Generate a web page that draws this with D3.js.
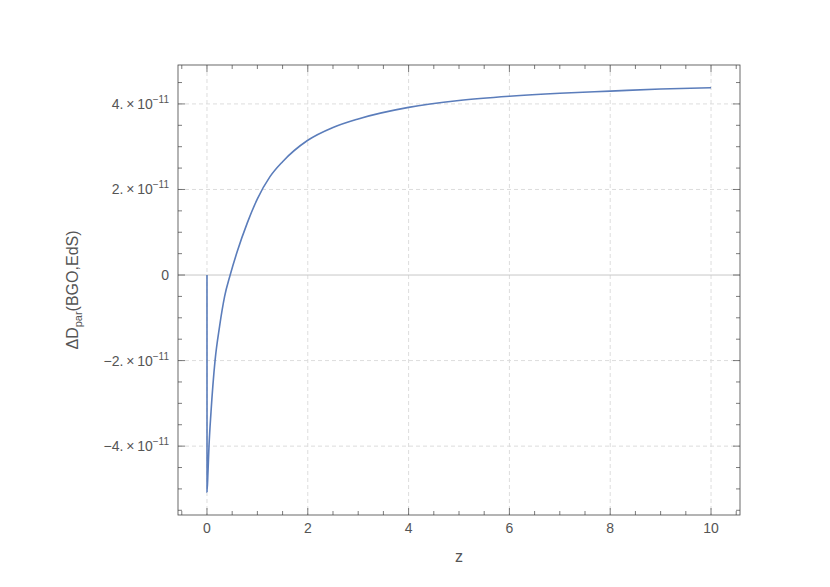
<!DOCTYPE html><html><head><script src="https://cdn.jsdelivr.net/npm/d3@7"></script>
<style>body{margin:0;background:#fff}text{font-family:"Liberation Sans",Arial,sans-serif;fill:#555}</style></head><body>
<svg id="c" width="830" height="587"></svg>
<script>
const zVals=[0,0.001,0.02,0.04,0.08,0.16,0.25,0.35,0.46,0.6,0.8,1.0,1.25,1.5,2,2.5,3,4,5,6,7,8,9,10];
const dVals=[0,-5.07,-4.6,-4.0,-3.2,-2.0,-1.2,-0.5,0,0.55,1.22,1.78,2.3,2.65,3.15,3.45,3.65,3.92,4.08,4.18,4.25,4.3,4.35,4.38];
const xTicks=[0,2,4,6,8,10];
const yTicks=[-4,-2,0,2,4];
const svg=d3.select("#c");
const L=178,R=740,T=65,B=515;
const x=d3.scaleLinear().domain([-0.575,10.575]).range([L,R]);
const y=d3.scaleLinear().domain([-5.61,4.91]).range([B,T]);
const g=svg.append("g");
g.selectAll(".gx").data(xTicks).join("line").attr("x1",d=>x(d)).attr("x2",d=>x(d)).attr("y1",T).attr("y2",B).attr("stroke","#ddd").attr("stroke-dasharray","4,3");
g.selectAll(".gy").data(yTicks.filter(d=>d!==0)).join("line").attr("y1",d=>y(d)).attr("y2",d=>y(d)).attr("x1",L).attr("x2",R).attr("stroke","#ddd").attr("stroke-dasharray","4,3");
g.append("line").attr("x1",L).attr("x2",R).attr("y1",y(0)).attr("y2",y(0)).attr("stroke","#c8c8c8");
g.append("rect").attr("x",L).attr("y",T).attr("width",R-L).attr("height",B-T).attr("fill","none").attr("stroke","#444").attr("stroke-width",0.8);
const xMinor=d3.range(-0.5,10.51,0.5), yMinor=d3.range(-5.5,4.91,0.5);
xMinor.forEach(v=>{const maj=xTicks.includes(v);const l=maj?7:4;
 g.append("line").attr("x1",x(v)).attr("x2",x(v)).attr("y1",B).attr("y2",B-l).attr("stroke","#444").attr("stroke-width",0.7);
 g.append("line").attr("x1",x(v)).attr("x2",x(v)).attr("y1",T).attr("y2",T+l).attr("stroke","#444").attr("stroke-width",0.7);});
yMinor.forEach(v=>{const maj=yTicks.some(t=>Math.abs(t-v)<1e-9);const l=maj?7:4;
 g.append("line").attr("y1",y(v)).attr("y2",y(v)).attr("x1",L).attr("x2",L+l).attr("stroke","#444").attr("stroke-width",0.7);
 g.append("line").attr("y1",y(v)).attr("y2",y(v)).attr("x1",R).attr("x2",R-l).attr("stroke","#444").attr("stroke-width",0.7);});
xTicks.forEach(v=>g.append("text").attr("x",x(v)).attr("y",B+18).attr("text-anchor","middle").attr("font-size",14).text(v));
yTicks.forEach(v=>{const t=g.append("text").attr("x",L-9).attr("y",y(v)+5).attr("text-anchor","end").attr("font-size",14);
 if(v===0){t.text("0");return;}
 t.append("tspan").text((v<0?"\u2212":"")+Math.abs(v)+".\u2009\u00d7\u200910");
 t.append("tspan").attr("dy",-6).attr("font-size",10).text("\u221211");});
svg.append("text").attr("x",x(5)).attr("y",562).attr("text-anchor","middle").attr("font-size",16).text("z");
const yl=svg.append("text").attr("transform",`translate(78,${(T+B)/2}) rotate(-90)`).attr("text-anchor","middle").attr("font-size",16);
yl.append("tspan").text("\u0394D");yl.append("tspan").attr("dy",4).attr("font-size",11).text("par");yl.append("tspan").attr("dy",-4).text("(BGO,EdS)");
const pts=zVals.map((z,i)=>[z,dVals[i]]);
g.append("path").datum(pts).attr("fill","none").attr("stroke","#5b7dbb").attr("stroke-width",1.6)
 .attr("d",d3.line().x(d=>x(d[0])).y(d=>y(d[1])).curve(d3.curveMonotoneX));
</script></body></html>
